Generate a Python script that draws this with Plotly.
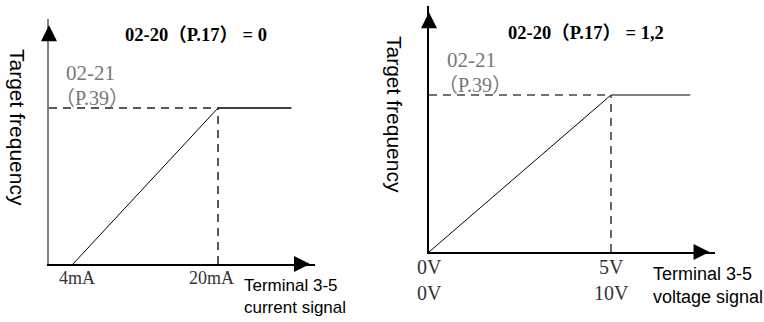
import plotly.graph_objects as go

W, H = 764, 322

# ---- data ----
# left panel: current input (mA) -> target frequency (fraction of 02-21 / P.39)
current_signal = [4, 20, 28.1]
current_freq = [0, 1, 1]
current_ticks = [4, 20]
current_tick_text = ["4mA", "20mA"]

# right panel: voltage input (V, 10V scale) -> target frequency
voltage_signal = [0, 10, 14.35]
voltage_freq = [0, 1, 1]
voltage_ticks = [0, 10]
voltage_tick_text = ["0V<br>0V", "5V<br>10V"]

titles = ["02-20（P.17） = 0", "02-20（P.17） = 1,2"]
max_label = ["02-21", "（P.39）"]

def px(x):
    return x / W

def py(y):
    return 1 - y / H

# axis ranges (chosen so the schematic fits the canvas)
xr1 = [1.352, 30.70]
yr1 = [0, 1.5705]
xr2 = [0, 15.714]
yr2 = [0, 1.567]

fig = go.Figure()

SERIF = "Liberation Serif, Noto Sans CJK SC"
SANS = "Liberation Sans, Arial"

# ---- left panel ----
fig.add_trace(go.Scatter(x=current_signal[:2], y=current_freq[:2], mode="lines",
                         line=dict(color="#000", width=1), xaxis="x", yaxis="y"))
fig.add_trace(go.Scatter(x=current_signal[1:], y=current_freq[1:], mode="lines",
                         line=dict(color="#000", width=1.5), xaxis="x", yaxis="y"))
fig.add_trace(go.Scatter(x=[xr1[0], current_signal[1]], y=[current_freq[1]] * 2, mode="lines",
                         line=dict(color="#222", width=1.5, dash="8px,6px"), xaxis="x", yaxis="y"))
fig.add_trace(go.Scatter(x=[current_signal[1]] * 2, y=[0, current_freq[1]], mode="lines",
                         line=dict(color="#222", width=1.5, dash="8px,6px"), xaxis="x", yaxis="y"))

# ---- right panel ----
fig.add_trace(go.Scatter(x=voltage_signal[:2], y=voltage_freq[:2], mode="lines",
                         line=dict(color="#000", width=1), xaxis="x2", yaxis="y2"))
fig.add_trace(go.Scatter(x=voltage_signal[1:], y=voltage_freq[1:], mode="lines",
                         line=dict(color="#808080", width=2), xaxis="x2", yaxis="y2"))
fig.add_trace(go.Scatter(x=[xr2[0], voltage_signal[1]], y=[voltage_freq[1]] * 2, mode="lines",
                         line=dict(color="#444", width=1.5, dash="8px,6px"), xaxis="x2", yaxis="y2"))
fig.add_trace(go.Scatter(x=[voltage_signal[1]] * 2, y=[0, voltage_freq[1]], mode="lines",
                         line=dict(color="#333", width=1.5, dash="8px,6px"), xaxis="x2", yaxis="y2"))

ax_common = dict(showgrid=False, zeroline=False, showticklabels=False, ticks="", fixedrange=True)

fig.update_layout(
    width=W, height=H, autosize=False,
    margin=dict(l=0, r=0, t=0, b=0),
    paper_bgcolor="white", plot_bgcolor="white",
    showlegend=False,
    xaxis=dict(domain=[px(49), px(315)], range=xr1, anchor="y", showline=True,
               linecolor="#000", linewidth=2, **ax_common),
    yaxis=dict(domain=[py(264), py(19)], range=yr1, anchor="x", showline=True,
               linecolor="#808080", linewidth=2, **ax_common),
    xaxis2=dict(domain=[px(429), px(715)], range=xr2, anchor="y2", showline=True,
                linecolor="#000", linewidth=2, **ax_common),
    yaxis2=dict(domain=[py(252), py(6)], range=yr2, anchor="x2", showline=True,
                linecolor="#000", linewidth=1.5, **ax_common),
)

ann = []
# arrow heads on the axes
def head(xref, yref, x, y, axv, ayv):
    ann.append(dict(xref=xref, yref=yref, axref=xref, ayref=yref, x=x, y=y, ax=axv, ay=ayv,
                    text="", showarrow=True, arrowhead=2, arrowsize=1.6, arrowwidth=2,
                    arrowcolor="#000"))

head("x", "y", xr1[1] - 0.55, 0, xr1[1] - 1.8, 0)
head("x", "y", xr1[0], yr1[1] - 0.04, xr1[0], yr1[1] - 0.14)
head("x2", "y2", xr2[1] - 0.3, 0, xr2[1] - 1.2, 0)
head("x2", "y2", xr2[0], yr2[1] - 0.04, xr2[0], yr2[1] - 0.14)

def text(x, y, s, size, family, color="#000", xanchor="center", xref="paper", yref="paper",
         angle=0, bold=False, align="center"):
    ann.append(dict(x=x, y=y, xref=xref, yref=yref, text=s, showarrow=False,
                    xanchor=xanchor, yanchor="middle", textangle=angle, align=align,
                    font=dict(size=size, family=family, color=color,
                              weight="bold" if bold else "normal")))

# titles
text(px(195.5), py(35), titles[0], 18.5, SERIF, bold=True)
text(px(585.5), py(33), titles[1], 18.5, SERIF, bold=True)
# max frequency labels
text(px(90), py(73), max_label[0], 21, SERIF, color="#777")
text(px(92), py(98), max_label[1], 20, SERIF, color="#777")
text(px(471.5), py(60), max_label[0], 21, SERIF, color="#777")
text(px(474.5), py(85), max_label[1], 20, SERIF, color="#777")
# y-axis titles
text(px(18), py(127), "Target frequency", 21, SANS, angle=90)
text(px(395), py(114), "Target frequency", 21, SANS, angle=90)
# tick labels
shifts1 = [4, -7]
for v, t, s in zip(current_ticks, current_tick_text, shifts1):
    ann.append(dict(x=v, y=py(278), xref="x", yref="paper", text=t, showarrow=False,
                    xshift=s, yanchor="middle", font=dict(size=18, family=SERIF, color="#333")))
for v, t in zip(voltage_ticks, voltage_tick_text):
    ann.append(dict(x=v, y=py(280), xref="x2", yref="paper", text=t, showarrow=False,
                    yanchor="middle", font=dict(size=20, family=SERIF, color="#333")))
# x-axis titles
text(px(242), py(296.5), "Terminal 3-5<br>current signal", 17, SANS, xanchor="left", align="left")
text(px(651), py(285.5), "Terminal 3-5<br>voltage signal", 18, SANS, xanchor="left", align="left")

fig.update_layout(annotations=ann)
fig.write_html("out.html", config={"displayModeBar": False},
               post_script="document.body.style.margin='0';document.body.style.overflow='hidden';")
